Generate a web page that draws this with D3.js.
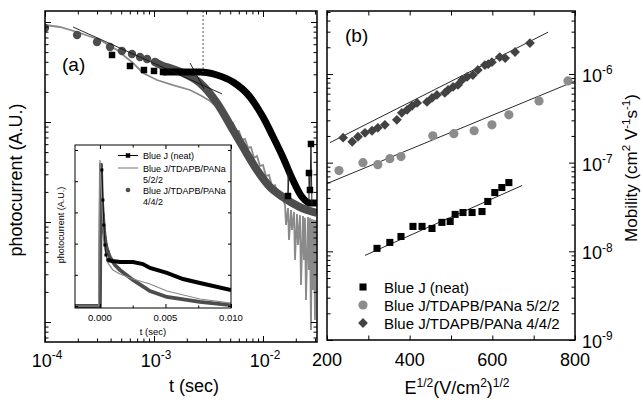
<!DOCTYPE html>
<html>
<head>
<meta charset="utf-8">
<script src="https://cdn.jsdelivr.net/npm/d3@7"></script>
<style>
  body { margin: 0; background: #fff; }
</style>
</head>
<body>
<script>
// ---------------- data: panel (a), photocurrent transients (t in s, A.U.) ----------------
const neatSparse = [[4.12e-4, 4.68], [6.02e-4, 3.63], [8.09e-4, 3.31], [1.0e-3, 3.24], [1.21e-3, 3.16]];
const neatBand = [[1.21e-3, 3.16], [1.40e-3, 3.16], [1.85e-3, 3.16], [2.64e-3, 3.16], [3.78e-3, 2.95],
  [5.31e-3, 2.51], [7.60e-3, 1.78], [1.0e-2, 1.12], [1.24e-2, 0.708], [1.52e-2, 0.447],
  [1.88e-2, 0.263], [2.28e-2, 0.178], [2.70e-2, 0.155], [3.13e-2, 0.155]];
const neatTail1 = [[1.696e-2, 0.331], [1.696e-2, 0.182], [1.732e-2, 0.302]];
const neatTail2 = [[2.642e-2, 0.166], [2.642e-2, 0.309], [2.698e-2, 0.209], [2.756e-2, 0.603], [2.814e-2, 0.148]];
const neatTailMarks = [[1.696e-2, 0.182], [2.642e-2, 0.309], [2.698e-2, 0.209], [2.756e-2, 0.603]];

const gray522 = [[1.0e-4, 9.33], [1.37e-4, 8.91], [1.97e-4, 7.94], [3.2e-4, 6.61], [4.58e-4, 5.25],
  [6.42e-4, 3.89], [7.93e-4, 3.09], [1.065e-3, 2.63], [1.494e-3, 2.34], [2.14e-3, 2.09],
  [2.64e-3, 1.86], [3.27e-3, 1.62], [3.78e-3, 1.41],
  [4.03e-3, 1.41], [4.39e-3, 1.12], [4.67e-3, 1.15], [4.98e-3, 0.955], [5.31e-3, 0.977],
  [5.65e-3, 0.794], [6.02e-3, 0.813], [6.42e-3, 0.661], [6.84e-3, 0.676], [7.29e-3, 0.550],
  [7.76e-3, 0.562], [8.27e-3, 0.437], [8.81e-3, 0.457], [9.39e-3, 0.363], [1.0e-2, 0.372],
  [1.065e-2, 0.288], [1.135e-2, 0.295], [1.21e-2, 0.229], [1.288e-2, 0.234], [1.373e-2, 0.186],
  [1.462e-2, 0.191], [1.558e-2, 0.158],
  [0.01592, 0.148], [0.01626, 0.0933], [0.01696, 0.138], [0.01732, 0.0661], [0.01806, 0.132],
  [0.01845, 0.0832], [0.01925, 0.126], [0.01966, 0.0417], [0.02050, 0.120], [0.02095, 0.0589],
  [0.02185, 0.117], [0.02232, 0.0234], [0.02328, 0.115], [0.02377, 0.0417], [0.02428, 0.110],
  [0.02480, 0.0166], [0.02587, 0.112], [0.02642, 0.0331], [0.02698, 0.110], [0.02756, 0.0083],
  [0.02814, 0.107], [0.02875, 0.0209], [0.02936, 0.105], [0.02999, 0.0105], [0.03062, 0.105]];

const dark442Sparse = [[1.0e-4, 8.71], [1.97e-4, 7.41], [3.0e-4, 6.31], [3.95e-4, 5.62], [5.08e-4, 5.13],
  [6.28e-4, 4.79], [7.44e-4, 4.47], [8.63e-4, 4.27], [1.02e-3, 3.98]];
const dark442Band = [[1.02e-3, 3.98], [1.21e-3, 3.63], [1.40e-3, 3.47], [1.85e-3, 3.09], [2.64e-3, 2.45],
  [3.78e-3, 1.55], [5.31e-3, 0.832], [6.56e-3, 0.562], [8.81e-3, 0.331], [1.16e-2, 0.224],
  [1.52e-2, 0.178], [2.18e-2, 0.141], [3.13e-2, 0.123]];

const fitA1 = [[1.81e-4, 8.91], [4.21e-3, 1.91]];
const fitA2 = [[2.14e-3, 3.89], [2.88e-3, 2.14]];
const transitTime = [[2.82e-3, 12.88], [2.82e-3, 3.16]];

const xTickExpA = [-4, -3, -2];

// inset (linear t, normalised photocurrent)
const insetGray = [[-0.0019, 0], [-0.0001, 0], [0, 0.936], [0.00008, 0.808], [0.00023, 0.519],
  [0.00038, 0.359], [0.00061, 0.276], [0.00099, 0.231], [0.00153, 0.205], [0.00252, 0.173],
  [0.00382, 0.141], [0.00511, 0.096], [0.00763, 0.045], [0.0100, 0.019]];
const insetDark = [[-0.0019, 0], [0, 0], [0.00008, 0.904], [0.00015, 0.679], [0.00023, 0.583],
  [0.0003, 0.5], [0.00038, 0.436], [0.00046, 0.391], [0.00061, 0.346], [0.00076, 0.314],
  [0.00115, 0.263], [0.00153, 0.231], [0.00252, 0.167], [0.00382, 0.096], [0.00511, 0.058],
  [0.00763, 0.026], [0.0100, 0.006]];
const insetNeat = [[0.00015, 0.872], [0.00023, 0.679], [0.0003, 0.519], [0.00038, 0.391],
  [0.00046, 0.327], [0.00061, 0.295], [0.00092, 0.288], [0.00153, 0.282], [0.00252, 0.282],
  [0.00328, 0.269], [0.00382, 0.244], [0.00511, 0.212], [0.00634, 0.173], [0.00763, 0.147],
  [0.0100, 0.103]];
const insetXLabels = [0, 0.005, 0.010];
const insetXMinor = [0.0025, 0.0075];
const insetYTicks = [0, 0.2, 0.4, 0.6, 0.8, 1.0];
const insetLegend = ["Blue J (neat)", "Blue J/TDAPB/PANa", "5/2/2", "Blue J/TDAPB/PANa", "4/4/2"];

// ---------------- data: panel (b), mobility vs sqrt(E) ----------------
const sqNeatX = [321, 352, 379, 408, 430, 454, 478, 498, 510, 529, 551, 575, 589, 606, 623, 640];
const sqNeatY = [1.08e-8, 1.26e-8, 1.47e-8, 1.91e-8, 1.91e-8, 1.81e-8, 2.12e-8, 2.17e-8, 2.61e-8,
  2.74e-8, 2.74e-8, 2.81e-8, 3.65e-8, 4.60e-8, 5.24e-8, 5.96e-8];
const circ522X = [229, 287, 323, 352, 379, 456, 507, 556, 599, 640, 713, 783];
const circ522Y = [8.13e-8, 1.0e-7, 9.5e-8, 1.11e-7, 1.17e-7, 2.01e-7, 2.12e-7, 2.29e-7, 2.67e-7,
  3.46e-7, 4.97e-7, 8.34e-7];
const diam442X = [239, 261, 275, 292, 309, 323, 340, 369, 381, 394, 406, 418, 442, 454, 466, 485, 493,
  505, 517, 527, 539, 553, 565, 582, 590, 599, 618, 631, 655, 691];
const diam442Y = [1.91e-7, 1.72e-7, 1.96e-7, 2.17e-7, 2.29e-7, 2.47e-7, 2.67e-7, 3.04e-7, 3.65e-7,
  3.94e-7, 4.37e-7, 4.72e-7, 4.84e-7, 5.37e-7, 5.81e-7, 6.12e-7, 6.61e-7, 7.15e-7, 7.52e-7, 8.57e-7,
  9.25e-7, 9.74e-7, 1.11e-6, 1.26e-6, 1.29e-6, 1.36e-6, 1.55e-6, 1.51e-6, 1.77e-6, 2.23e-6];
const fitSq = [[292, 9.0e-9], [672, 5.52e-8]];
const fitCirc = [[200, 5.81e-8], [800, 8.3e-7]];
const fitDiam = [[207, 1.68e-7], [735, 2.96e-6]];
const xTicksB = [200, 300, 400, 500, 600, 700, 800];
const xLabelsB = [200, 400, 600, 800];
const yTickExpB = [-9, -8, -7, -6];
const legendB = ["Blue J (neat)", "Blue J/TDAPB/PANa 5/2/2", "Blue J/TDAPB/PANa 4/4/2"];

// ---------------- drawing ----------------
const BLACK = "#000", GRAY = "#8a8a8a", DARK = "#4d4d4d", DIAM = "#424242", CIRCB = "#8c8c8c";

const svg = d3.select("body").append("svg")
  .attr("width", 643).attr("height", 402)
  .style("font-family", '"Liberation Sans", Arial, Helvetica, sans-serif');
const defs = svg.append("defs");

function isDecade(v) {
  const l = Math.log10(v);
  return Math.abs(l - Math.round(l)) < 1e-6;
}

// inward ticks through d3 axes
function inTicks(axisFn, scale, values, size, tx, ty) {
  svg.append("g")
    .attr("transform", `translate(${tx},${ty})`)
    .call(axisFn(scale).tickValues(values).tickSize(-size).tickFormat(""))
    .call(g => g.select(".domain").remove())
    .selectAll("line").attr("stroke", BLACK).attr("stroke-width", 1);
}

function powLabel(x, y, exp, size, anchor) {
  const t = svg.append("text").attr("x", x).attr("y", y)
    .attr("text-anchor", anchor).attr("font-size", size).attr("fill", BLACK);
  t.append("tspan").text("10");
  t.append("tspan").attr("dy", -size * 0.42).attr("font-size", size * 0.66).text(exp);
}

function clip(id, x0, y0, x1, y1) {
  defs.append("clipPath").attr("id", id).append("rect")
    .attr("x", x0).attr("y", y0).attr("width", x1 - x0).attr("height", y1 - y0);
}

// ===== panel (a) =====
const A = { l: 45, r: 317, t: 11, b: 342 };
const xA = d3.scaleLog().domain([1e-4, 3.13e-2]).range([A.l, A.r]);
const yA = d3.scaleLog().domain([0.00631, 12.88]).range([A.b, A.t]);
clip("clipA", A.l, A.t, A.r, A.b);

const lineA = d3.line().x(d => xA(d[0])).y(d => yA(d[1]));
const smoothA = d3.line().x(d => xA(d[0])).y(d => yA(d[1])).curve(d3.curveMonotoneX);

const gA = svg.append("g").attr("clip-path", "url(#clipA)");

gA.append("path").attr("d", lineA(gray522)).attr("fill", "none")
  .attr("stroke", GRAY).attr("stroke-width", 1.8);

gA.append("path").attr("d", smoothA(dark442Band)).attr("fill", "none")
  .attr("stroke", DARK).attr("stroke-width", 8);
gA.selectAll("circle.d442").data(dark442Sparse).enter().append("circle")
  .attr("cx", d => xA(d[0])).attr("cy", d => yA(d[1])).attr("r", 4.2).attr("fill", DARK);

gA.append("path").attr("d", smoothA(neatBand)).attr("fill", "none")
  .attr("stroke", BLACK).attr("stroke-width", 7);
[neatTail1, neatTail2].forEach(tail => {
  gA.append("path").attr("d", lineA(tail)).attr("fill", "none")
    .attr("stroke", "#222").attr("stroke-width", 1);
});
const sqA = d3.symbol().type(d3.symbolSquare).size(42);
gA.selectAll("path.neat").data(neatSparse.concat(neatTailMarks)).enter().append("path")
  .attr("d", sqA).attr("fill", BLACK)
  .attr("transform", d => `translate(${xA(d[0])},${yA(d[1])})`);

[fitA1, fitA2].forEach(f => {
  gA.append("path").attr("d", lineA(f)).attr("fill", "none")
    .attr("stroke", "#111").attr("stroke-width", 0.9);
});
gA.append("path").attr("d", lineA(transitTime)).attr("fill", "none")
  .attr("stroke", "#555").attr("stroke-width", 1).attr("stroke-dasharray", "2,2");

// ticks (a)
const xtA = xA.ticks();
const ytA = yA.ticks();
inTicks(d3.axisBottom, xA, xtA.filter(isDecade), 6, 0, A.b);
inTicks(d3.axisBottom, xA, xtA.filter(v => !isDecade(v)), 3.5, 0, A.b);
inTicks(d3.axisTop, xA, xtA.filter(isDecade), 6, 0, A.t);
inTicks(d3.axisTop, xA, xtA.filter(v => !isDecade(v)), 3.5, 0, A.t);
inTicks(d3.axisLeft, yA, ytA.filter(isDecade), 6, A.l, 0);
inTicks(d3.axisLeft, yA, ytA.filter(v => !isDecade(v)), 3.5, A.l, 0);
inTicks(d3.axisRight, yA, ytA.filter(isDecade), 6, A.r, 0);
inTicks(d3.axisRight, yA, ytA.filter(v => !isDecade(v)), 3.5, A.r, 0);

svg.append("rect").attr("x", A.l).attr("y", A.t).attr("width", A.r - A.l).attr("height", A.b - A.t)
  .attr("fill", "none").attr("stroke", BLACK).attr("stroke-width", 1.5);

xTickExpA.forEach(e => powLabel(xA(Math.pow(10, e)) + 2, 367, String(e), 18, "middle"));

svg.append("text").attr("x", 194).attr("y", 392).attr("text-anchor", "middle")
  .attr("font-size", 18).text("t (sec)");
svg.append("text").attr("transform", "translate(22,180) rotate(-90)").attr("text-anchor", "middle")
  .attr("font-size", 18).text("photocurrent (A.U.)");
svg.append("text").attr("x", 62).attr("y", 71).attr("font-size", 19).text("(a)");

// ===== inset =====
const I = { l: 75, r: 231, t: 145, b: 308 };
const xI = d3.scaleLinear().domain([-0.0019, 0.0100]).range([I.l, I.r]);
const yI = d3.scaleLinear().domain([-0.0128, 1.032]).range([I.b, I.t]);
clip("clipI", I.l, I.t, I.r, I.b);

svg.append("rect").attr("x", I.l).attr("y", I.t).attr("width", I.r - I.l).attr("height", I.b - I.t)
  .attr("fill", "#fff");

const lineI = d3.line().x(d => xI(d[0])).y(d => yI(d[1]));
const gI = svg.append("g").attr("clip-path", "url(#clipI)");
gI.append("path").attr("d", lineI(insetDark)).attr("fill", "none")
  .attr("stroke", DARK).attr("stroke-width", 3.8);
gI.selectAll("circle").data(insetDark.slice(2, 9)).enter().append("circle")
  .attr("cx", d => xI(d[0])).attr("cy", d => yI(d[1])).attr("r", 2.1).attr("fill", DARK);
gI.append("path").attr("d", lineI(insetGray)).attr("fill", "none")
  .attr("stroke", GRAY).attr("stroke-width", 1.2);
gI.append("path").attr("d", lineI(insetNeat.slice(5))).attr("fill", "none")
  .attr("stroke", BLACK).attr("stroke-width", 4);
gI.append("path").attr("d", lineI(insetNeat.slice(0, 6))).attr("fill", "none")
  .attr("stroke", BLACK).attr("stroke-width", 0.8);
const sqI = d3.symbol().type(d3.symbolSquare).size(9);
gI.selectAll("path.nq").data(insetNeat.slice(0, 6)).enter().append("path")
  .attr("d", sqI).attr("fill", BLACK)
  .attr("transform", d => `translate(${xI(d[0])},${yI(d[1])})`);

inTicks(d3.axisBottom, xI, insetXLabels, 4, 0, I.b);
inTicks(d3.axisBottom, xI, insetXMinor, 2.5, 0, I.b);
inTicks(d3.axisTop, xI, insetXLabels, 4, 0, I.t);
inTicks(d3.axisTop, xI, insetXMinor, 2.5, 0, I.t);
inTicks(d3.axisLeft, yI, insetYTicks, 3, I.l, 0);
inTicks(d3.axisRight, yI, insetYTicks, 3, I.r, 0);

svg.append("rect").attr("x", I.l).attr("y", I.t).attr("width", I.r - I.l).attr("height", I.b - I.t)
  .attr("fill", "none").attr("stroke", BLACK).attr("stroke-width", 1);

svg.selectAll("text.ixl").data(insetXLabels).enter().append("text")
  .attr("x", d => xI(d)).attr("y", 321).attr("text-anchor", "middle")
  .attr("font-size", 9.5).text(d3.format(".3f"));
svg.append("text").attr("x", 153).attr("y", 335).attr("text-anchor", "middle")
  .attr("font-size", 9.5).text("t (sec)");
svg.append("text").attr("transform", "translate(64,225) rotate(-90)").attr("text-anchor", "middle")
  .attr("font-size", 9).text("photocurrent (A.U.)");

// inset legend
const legY = [159, 171.5, 183, 193.5, 205];
svg.selectAll("text.ileg").data(insetLegend).enter().append("text")
  .attr("x", 143).attr("y", (d, i) => legY[i]).attr("font-size", 9).text(d => d);
svg.append("line").attr("x1", 118).attr("x2", 138).attr("y1", legY[0] - 3.5).attr("y2", legY[0] - 3.5)
  .attr("stroke", BLACK).attr("stroke-width", 1);
svg.append("path").attr("d", d3.symbol().type(d3.symbolSquare).size(20))
  .attr("transform", `translate(128,${legY[0] - 3.5})`).attr("fill", BLACK);
svg.append("line").attr("x1", 118).attr("x2", 138).attr("y1", legY[1] - 3.5).attr("y2", legY[1] - 3.5)
  .attr("stroke", GRAY).attr("stroke-width", 1.2);
svg.append("circle").attr("cx", 128).attr("cy", legY[3] - 3.5).attr("r", 2.3).attr("fill", DARK);

// ===== panel (b) =====
const B = { l: 327, r: 575, t: 11, b: 340 };
const xB = d3.scaleLinear().domain([200, 800]).range([B.l, B.r]);
const yB = d3.scaleLog().domain([1e-9, 5.13e-6]).range([B.b, B.t]);
clip("clipB", B.l, B.t, B.r, B.b);

const lineB = d3.line().x(d => xB(d[0])).y(d => yB(d[1]));
const gB = svg.append("g").attr("clip-path", "url(#clipB)");

[fitSq, fitCirc, fitDiam].forEach(f => {
  gB.append("path").attr("d", lineB(f)).attr("fill", "none")
    .attr("stroke", "#111").attr("stroke-width", 0.9);
});

gB.selectAll("circle.c522").data(circ522X).enter().append("circle")
  .attr("cx", d => xB(d)).attr("cy", (d, i) => yB(circ522Y[i])).attr("r", 4.6).attr("fill", CIRCB);

const sqB = d3.symbol().type(d3.symbolSquare).size(50);
gB.selectAll("path.sq").data(sqNeatX).enter().append("path")
  .attr("d", sqB).attr("fill", BLACK)
  .attr("transform", (d, i) => `translate(${xB(d)},${yB(sqNeatY[i])})`);

const diB = d3.symbol().type(d3.symbolSquare).size(48);
gB.selectAll("path.di").data(diam442X).enter().append("path")
  .attr("d", diB).attr("fill", DIAM)
  .attr("transform", (d, i) => `translate(${xB(d)},${yB(diam442Y[i])}) rotate(45)`);

// ticks (b)
const ytB = yB.ticks();
inTicks(d3.axisBottom, xB, xTicksB, 4.5, 0, B.b);
inTicks(d3.axisTop, xB, xTicksB, 4.5, 0, B.t);
inTicks(d3.axisLeft, yB, ytB.filter(isDecade), 6, B.l, 0);
inTicks(d3.axisLeft, yB, ytB.filter(v => !isDecade(v)), 3.5, B.l, 0);
inTicks(d3.axisRight, yB, ytB.filter(isDecade), 6, B.r, 0);
inTicks(d3.axisRight, yB, ytB.filter(v => !isDecade(v)), 3.5, B.r, 0);

svg.append("rect").attr("x", B.l).attr("y", B.t).attr("width", B.r - B.l).attr("height", B.b - B.t)
  .attr("fill", "none").attr("stroke", BLACK).attr("stroke-width", 1.5);

svg.selectAll("text.xlb").data(xLabelsB).enter().append("text")
  .attr("x", d => xB(d)).attr("y", 366).attr("text-anchor", "middle")
  .attr("font-size", 18).text(d => d);
yTickExpB.forEach(e => powLabel(582, yB(Math.pow(10, e)) + 8, String(e), 18, "start"));

// x label E^{1/2}(V/cm^2)^{1/2}
{
  const t = svg.append("text").attr("x", 457).attr("y", 394).attr("text-anchor", "middle").attr("font-size", 18);
  t.append("tspan").text("E");
  t.append("tspan").attr("dy", -7.5).attr("font-size", 12).text("1/2");
  t.append("tspan").attr("dy", 7.5).text("(V/cm");
  t.append("tspan").attr("dy", -7.5).attr("font-size", 12).text("2");
  t.append("tspan").attr("dy", 7.5).text(")");
  t.append("tspan").attr("dy", -7.5).attr("font-size", 12).text("1/2");
}
// y label Mobility (cm^2 V^-1 s^-1)
{
  const t = svg.append("text").attr("transform", "translate(637,168) rotate(-90)")
    .attr("text-anchor", "middle").attr("font-size", 17);
  t.append("tspan").text("Mobility (cm");
  t.append("tspan").attr("dy", -7).attr("font-size", 11.5).text("2");
  t.append("tspan").attr("dy", 7).text(" V");
  t.append("tspan").attr("dy", -7).attr("font-size", 11.5).text("-1");
  t.append("tspan").attr("dy", 7).text("s");
  t.append("tspan").attr("dy", -7).attr("font-size", 11.5).text("-1");
  t.append("tspan").attr("dy", 7).text(")");
}
svg.append("text").attr("x", 345).attr("y", 42).attr("font-size", 19).text("(b)");

// legend (b)
const legBY = [287, 305, 323];
svg.selectAll("text.bleg").data(legendB).enter().append("text")
  .attr("x", 384).attr("y", (d, i) => legBY[i] + 5.5).attr("font-size", 15).text(d => d);
svg.append("path").attr("d", sqB).attr("fill", BLACK).attr("transform", `translate(363,${legBY[0]})`);
svg.append("circle").attr("cx", 363).attr("cy", legBY[1]).attr("r", 4.6).attr("fill", CIRCB);
svg.append("path").attr("d", diB).attr("fill", DIAM).attr("transform", `translate(363,${legBY[2]}) rotate(45)`);
</script>
</body>
</html>
